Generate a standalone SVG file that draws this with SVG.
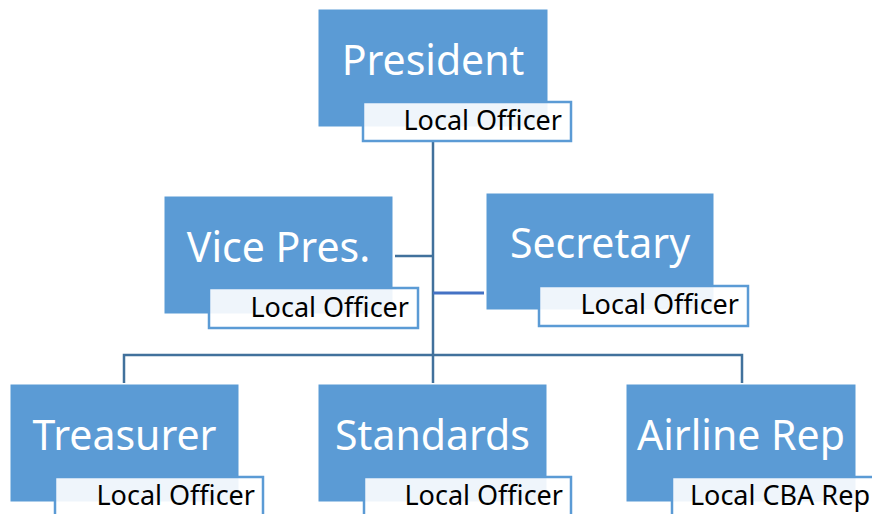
<svg xmlns="http://www.w3.org/2000/svg" width="872" height="514" viewBox="0 0 872 514">
<style>
.box{fill:#5b9bd5;stroke:#5b9bd5;stroke-width:1}
.lbl{fill:#ffffff;fill-opacity:0.9;stroke:#5b9bd5;stroke-width:2.5}
.t{font-family:"Noto Sans","Open Sans","DejaVu Sans",sans-serif;font-size:41px;fill:#ffffff;text-anchor:middle}
.s{font-family:"Noto Sans","Open Sans","DejaVu Sans",sans-serif;font-size:27px;fill:#000000;text-anchor:end}
.c{fill:none;stroke:#41719c;stroke-width:2.5}
</style>
<rect width="872" height="514" fill="#ffffff"/>
<g id="connectors">
<path class="c" d="M433 141V383"/>
<path class="c" d="M395 256H433"/>
<path d="M433 293H484" fill="none" stroke="#4472c4" stroke-width="3"/>
<path class="c" d="M124 383V355H742V383"/>
</g>
<g id="president">
<rect class="box" x="319" y="10" width="228" height="116"/>
<text class="t" x="433" y="75">President</text>
<rect class="lbl" x="363" y="102" width="208" height="39"/>
<text class="s" x="562" y="130">Local Officer</text>
</g>
<g id="vicepres">
<rect class="box" x="165" y="197" width="227" height="116"/>
<text class="t" x="278.5" y="262">Vice Pres.</text>
<rect class="lbl" x="209" y="288" width="209" height="40"/>
<text class="s" x="409" y="317">Local Officer</text>
</g>
<g id="secretary">
<rect class="box" x="487" y="194" width="226" height="115"/>
<text class="t" x="600" y="258">Secretary</text>
<rect class="lbl" x="539" y="286" width="209" height="40"/>
<text class="s" x="739" y="314">Local Officer</text>
</g>
<g id="treasurer">
<rect class="box" x="11" y="385" width="227" height="116"/>
<text class="t" x="124.5" y="450">Treasurer</text>
<rect class="lbl" x="55" y="477" width="208" height="40"/>
<text class="s" x="255" y="505">Local Officer</text>
</g>
<g id="standards">
<rect class="box" x="319" y="385" width="227" height="116"/>
<text class="t" x="432.5" y="450">Standards</text>
<rect class="lbl" x="364" y="477" width="207" height="40"/>
<text class="s" x="563" y="505">Local Officer</text>
</g>
<g id="airline">
<rect class="box" x="627" y="385" width="228" height="116"/>
<text class="t" x="741" y="450">Airline Rep</text>
<rect class="lbl" x="672" y="477" width="208" height="40"/>
<text class="s" x="870" y="505">Local CBA Rep</text>
</g>
</svg>
